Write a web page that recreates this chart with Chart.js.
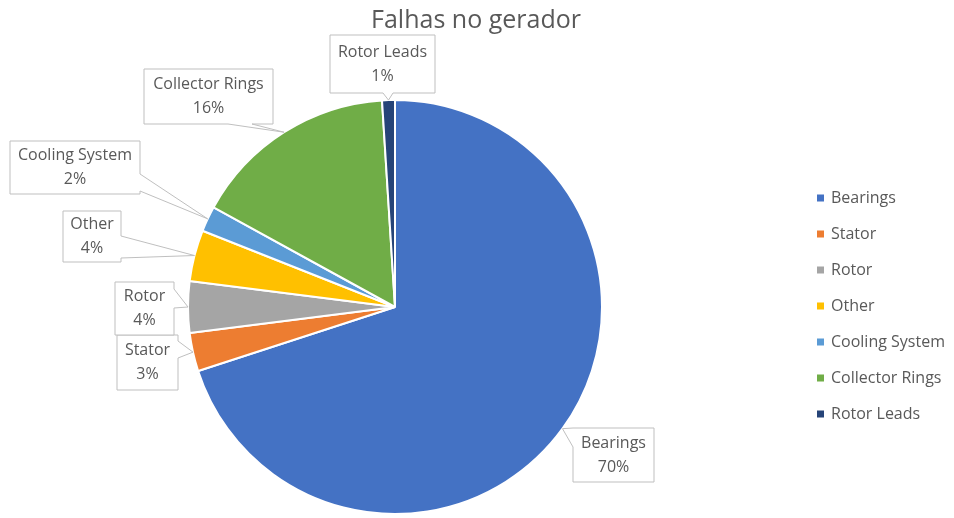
<!DOCTYPE html>
<html lang="pt">
<head>
    <meta charset="UTF-8">
    <title>Falhas no gerador</title>
    <script src="https://cdn.jsdelivr.net/npm/chart.js@4.4.0/dist/chart.umd.min.js"></script>
    <style>
        html, body { margin: 0; padding: 0; background: #fff; }
        canvas { display: block; }
    </style>
</head>
<body>
    <canvas id="pieChart" width="954" height="518"></canvas>

    <script>
        // Falhas por componente (%)
        const componentes = ['Bearings', 'Stator', 'Rotor', 'Other', 'Cooling System', 'Collector Rings', 'Rotor Leads'];
        const percentuais = [70, 3, 4, 4, 2, 16, 1];
        const cores = ['#4472C4', '#ED7D31', '#A5A5A5', '#FFC000', '#5B9BD5', '#70AD47', '#264478'];

        const titulo = 'Falhas no gerador';
        const corTexto = '#595959';
        const fonte = '"Open Sans", "DejaVu Sans", sans-serif';

        // caixas dos rótulos: retângulo + ponta que aponta para a fatia
        const caixas = [
            { x: 573, y: 428, w: 81, h: 54, lado: 'left', de: 428, ate: 447 },
            { x: 117, y: 335, w: 61, h: 55, lado: 'right', de: 341, ate: 358 },
            { x: 115, y: 282, w: 59, h: 53, lado: 'right', de: 289, ate: 308 },
            { x: 63, y: 211, w: 58, h: 51, lado: 'right', de: 236, ate: 258 },
            { x: 10, y: 141, w: 130, h: 53, lado: 'right', de: 174, ate: 191 },
            { x: 144, y: 69, w: 129, h: 55, lado: 'bottom', de: 228, ate: 252 },
            { x: 330, y: 35, w: 105, h: 58, lado: 'bottom', de: 383, ate: 393 }
        ];

        function caminhoCaixa(ctx, c, px, py) {
            const r = c.x + c.w, b = c.y + c.h;
            ctx.beginPath();
            ctx.moveTo(c.x, c.y);
            ctx.lineTo(r, c.y);
            if (c.lado === 'right') {
                ctx.lineTo(r, c.de);
                ctx.lineTo(px, py);
                ctx.lineTo(r, c.ate);
            }
            ctx.lineTo(r, b);
            if (c.lado === 'bottom') {
                ctx.lineTo(c.ate, b);
                ctx.lineTo(px, py);
                ctx.lineTo(c.de, b);
            }
            ctx.lineTo(c.x, b);
            if (c.lado === 'left') {
                ctx.lineTo(c.x, c.ate);
                ctx.lineTo(px, py);
                ctx.lineTo(c.x, c.de);
            }
            ctx.closePath();
        }

        const rotulos = {
            id: 'rotulos',
            afterDraw(chart) {
                const ctx = chart.ctx;
                const meta = chart.getDatasetMeta(0);
                ctx.save();

                // título
                ctx.fillStyle = corTexto;
                ctx.font = '25px ' + fonte;
                ctx.textAlign = 'center';
                ctx.textBaseline = 'middle';
                ctx.fillText(titulo, 476, 21);

                // rótulos de dados com ponta
                meta.data.forEach((arc, i) => {
                    const p = arc.getProps(['x', 'y', 'startAngle', 'endAngle', 'outerRadius'], true);
                    const meio = (p.startAngle + p.endAngle) / 2;
                    const px = p.x + Math.cos(meio) * p.outerRadius;
                    const py = p.y + Math.sin(meio) * p.outerRadius;
                    const c = caixas[i];

                    caminhoCaixa(ctx, c, px, py);
                    ctx.fillStyle = '#fff';
                    ctx.fill();
                    ctx.strokeStyle = '#BFBFBF';
                    ctx.lineWidth = 1;
                    ctx.stroke();

                    const cx = c.x + c.w / 2, cy = c.y + c.h / 2;
                    ctx.fillStyle = corTexto;
                    ctx.font = '16px ' + fonte;
                    ctx.fillText(componentes[i], cx, cy - 12);
                    ctx.fillText(percentuais[i] + '%', cx, cy + 12);
                });

                // legenda
                ctx.textAlign = 'left';
                ctx.font = '16px ' + fonte;
                componentes.forEach((nome, i) => {
                    const y = 198 + i * 36;
                    ctx.fillStyle = cores[i];
                    ctx.fillRect(817, y - 3.5, 7, 7);
                    ctx.fillStyle = corTexto;
                    ctx.fillText(nome, 831, y);
                });
                ctx.restore();
            }
        };

        new Chart(document.getElementById('pieChart'), {
            type: 'pie',
            data: {
                labels: componentes,
                datasets: [{
                    data: percentuais,
                    backgroundColor: cores,
                    borderColor: '#fff',
                    borderWidth: 2
                }]
            },
            options: {
                responsive: false,
                animation: false,
                layout: { padding: { left: 187, right: 351, top: 99, bottom: 3 } },
                plugins: {
                    legend: { display: false },
                    title: { display: false },
                    tooltip: { enabled: false }
                }
            },
            plugins: [rotulos]
        });
    </script>
</body>
</html>
